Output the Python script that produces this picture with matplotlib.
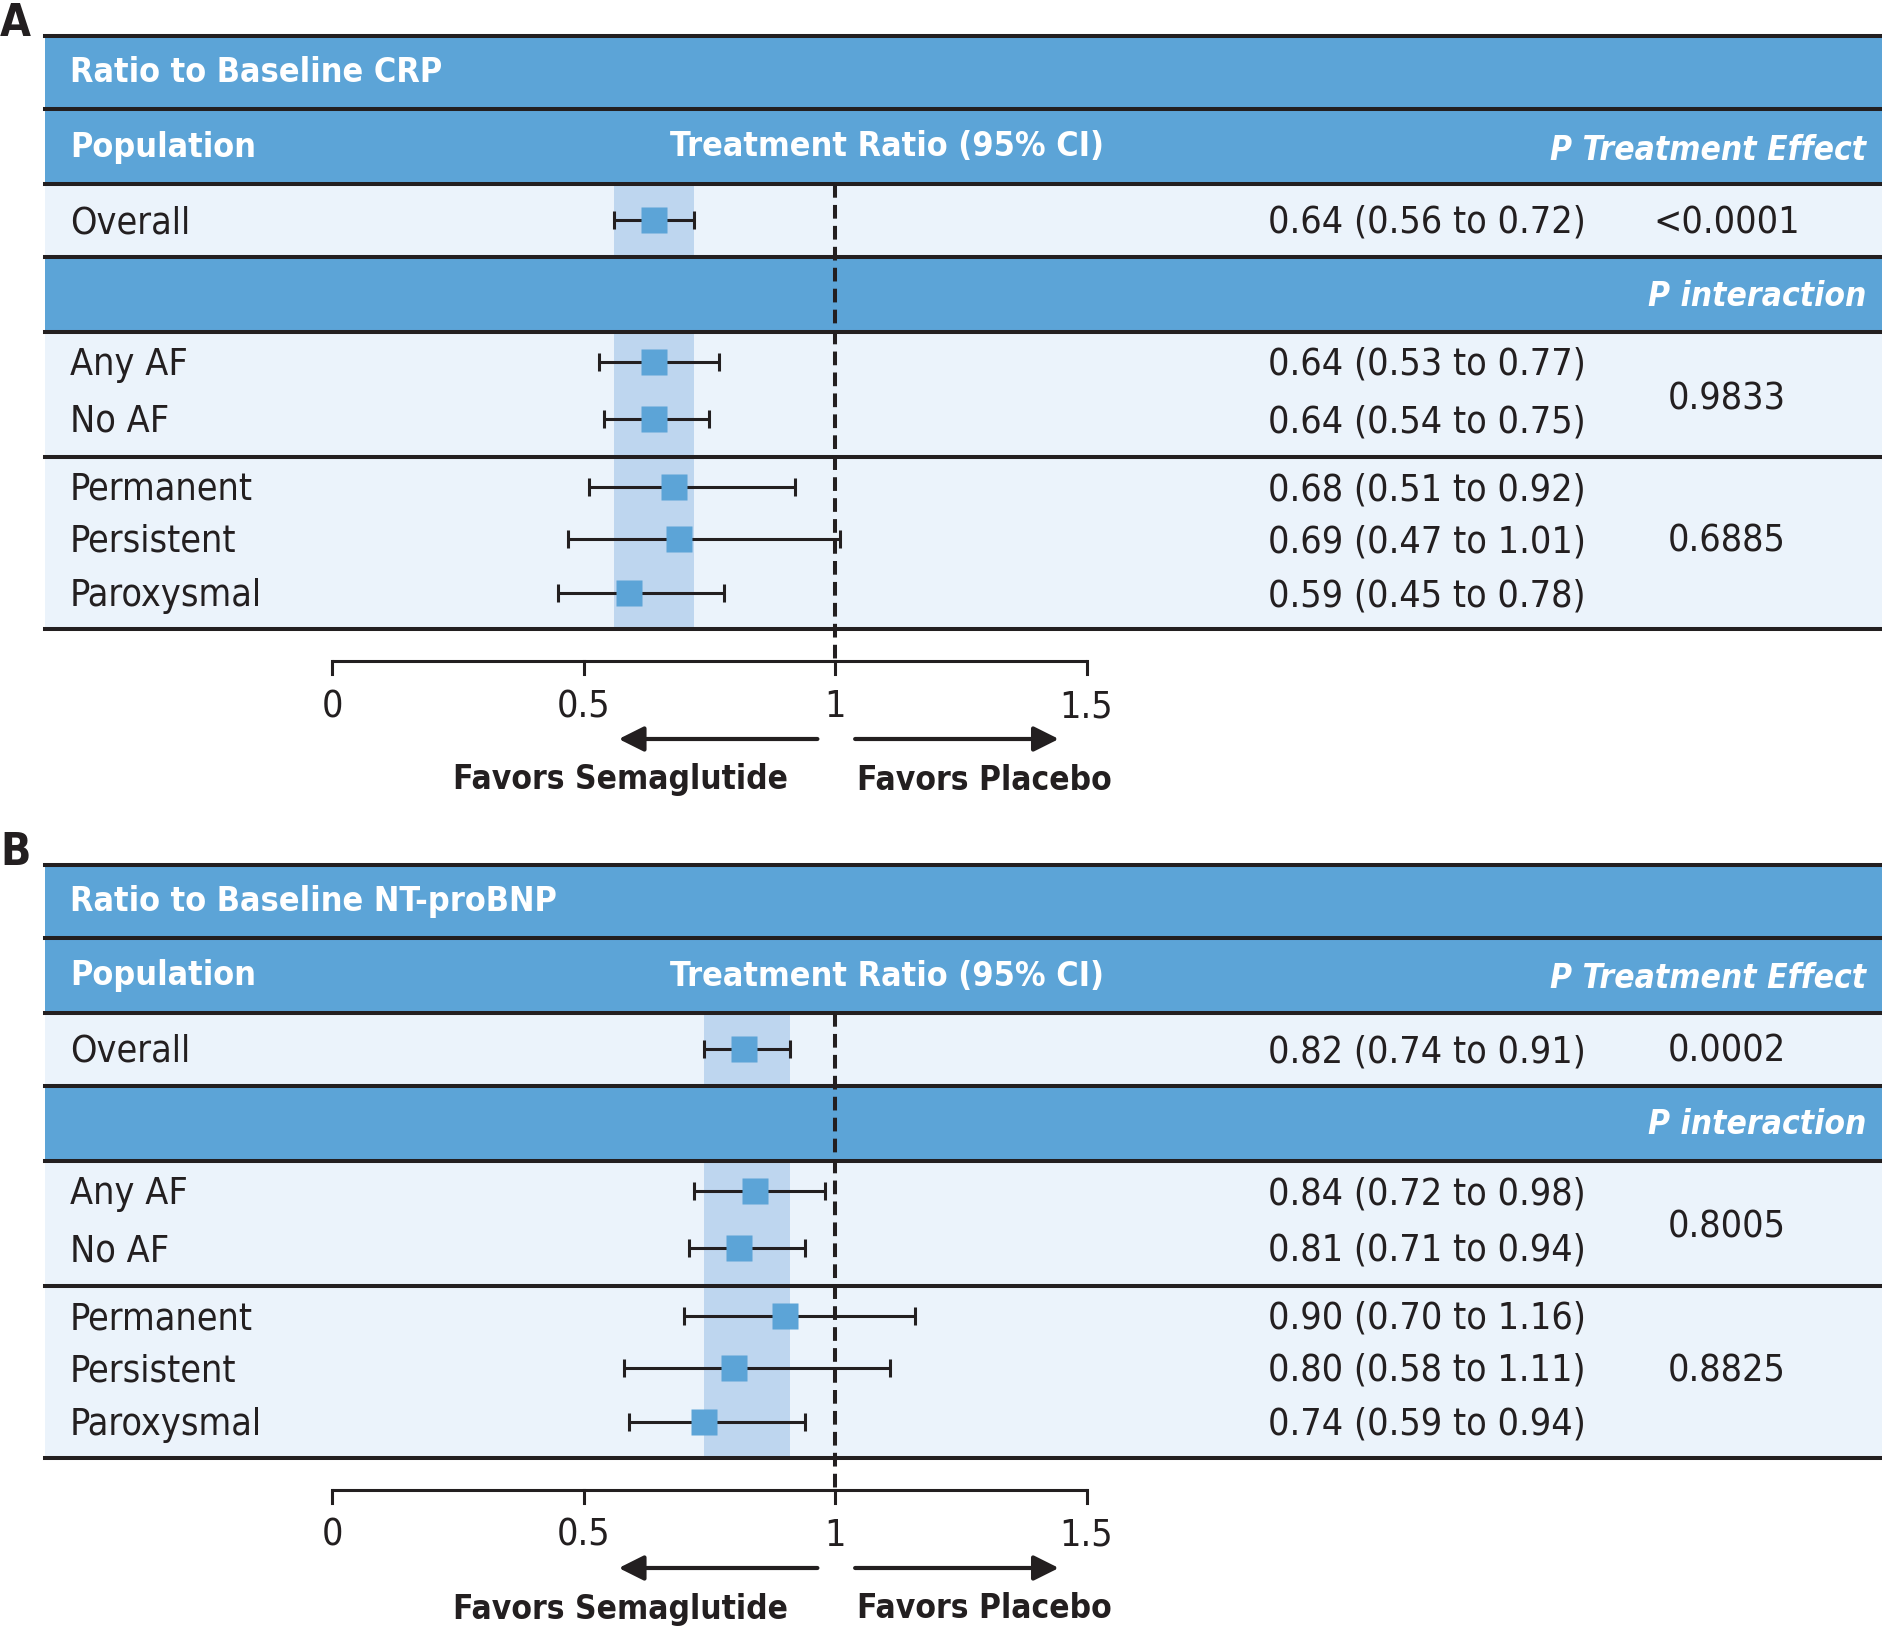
import matplotlib
matplotlib.use("Agg")
import matplotlib.pyplot as plt

plt.rcParams['font.family'] = ['DejaVu Sans']
plt.rcParams['font.stretch'] = 'condensed'

# ---- data -------------------------------------------------------------
row_labels = ["Overall", "Any AF", "No AF", "Permanent", "Persistent", "Paroxysmal"]

crp_title = "Ratio to Baseline CRP"
crp_est = [0.64, 0.64, 0.64, 0.68, 0.69, 0.59]
crp_lo = [0.56, 0.53, 0.54, 0.51, 0.47, 0.45]
crp_hi = [0.72, 0.77, 0.75, 0.92, 1.01, 0.78]
crp_p_effect = "<0.0001"
crp_p_interaction = ["0.9833", "0.6885"]

bnp_title = "Ratio to Baseline NT-proBNP"
bnp_est = [0.82, 0.84, 0.81, 0.90, 0.80, 0.74]
bnp_lo = [0.74, 0.72, 0.71, 0.70, 0.58, 0.59]
bnp_hi = [0.91, 0.98, 0.94, 1.16, 1.11, 0.94]
bnp_p_effect = "0.0002"
bnp_p_interaction = ["0.8005", "0.8825"]

axis_ticks = [0, 0.5, 1, 1.5]
axis_ticklabels = ["0", "0.5", "1", "1.5"]

# ---- style ------------------------------------------------------------
HEAD_BLUE = "#5ca4d7"
ROW_BG = "#ebf3fb"
CI_BAND = "#bed6ef"
MARK = "#5ca4d7"
INK = "#231f20"

W_PX, H_PX = 1882, 1630
X0_PX, UNIT_PX = 332, 503          # where ratio 0 sits, pixels per ratio unit
TABLE_LEFT = 45 / W_PX

# row layout inside one panel (pixels from panel top)
ROW_Y = [184, 326, 383, 451, 503, 557]
TXT_DY = 3      # nudge so the text sits on the same line as the marker
FS = 27         # body text
FS_HEAD = 24.5  # bold header text
FS_ITAL = 24    # bold italic / footer text

fig = plt.figure(figsize=(W_PX / 100, H_PX / 100), dpi=100)
ax = fig.add_axes([0, 0, 1, 1])
ax.set_xlim(-X0_PX / UNIT_PX, (W_PX - X0_PX) / UNIT_PX)
ax.set_ylim(H_PX, 0)
ax.axis("off")
tx = ax.get_yaxis_transform()   # x in axes fraction, y in data


def draw_panel(top, letter, title, est, lo, hi, p_effect, p_inter):
    # backgrounds
    ax.axhspan(top + 148, top + 593, xmin=TABLE_LEFT, xmax=1, color=ROW_BG, lw=0, zorder=0)
    ax.fill_between([lo[0], hi[0]], top + 148, top + 593, color=CI_BAND, lw=0, zorder=1)
    for y0, y1 in [(top, top + 73), (top + 73, top + 148), (top + 221, top + 296)]:
        ax.axhspan(y0, y1, xmin=TABLE_LEFT, xmax=1, color=HEAD_BLUE, lw=0, zorder=2)

    # separator lines
    for y in [top, top + 73, top + 148, top + 221, top + 296, top + 421, top + 593]:
        ax.axhline(y, xmin=TABLE_LEFT, xmax=1, color=INK, lw=2.9, zorder=3)

    # reference line at 1
    ax.plot([1, 1], [top + 148, top + 625], color=INK, lw=2.9, ls=(0, (3.4, 1.8)), zorder=4)

    # header texts
    ax.text(0.0372, top + 37, title, transform=tx, color="white", fontsize=FS_HEAD,
            fontweight="bold", va="center", ha="left", zorder=5)
    ax.text(0.0372, top + 111, "Population", transform=tx, color="white", fontsize=FS_HEAD,
            fontweight="bold", va="center", ha="left", zorder=5)
    ax.text(0.356, top + 111, "Treatment Ratio (95% CI)", transform=tx, color="white",
            fontsize=FS_HEAD, fontweight="bold", va="center", ha="left", zorder=5)
    ax.text(0.9915, top + 114, "P Treatment Effect", transform=tx, color="white",
            fontsize=FS_ITAL, fontweight="bold", style="italic", va="center", ha="right", zorder=5)
    ax.text(0.9915, top + 260, "P interaction", transform=tx, color="white",
            fontsize=FS_ITAL, fontweight="bold", style="italic", va="center", ha="right", zorder=5)

    # rows
    for i, lab in enumerate(row_labels):
        y = top + ROW_Y[i]
        ax.text(0.0372, y + TXT_DY, lab, transform=tx, color=INK, fontsize=FS,
                va="center", ha="left", zorder=5)
        ax.text(0.758, y + TXT_DY, f"{est[i]:.2f} ({lo[i]:.2f} to {hi[i]:.2f})", transform=tx,
                color=INK, fontsize=FS, va="center", ha="center", zorder=5)
        ax.errorbar(est[i], y, xerr=[[est[i] - lo[i]], [hi[i] - est[i]]], fmt="none",
                    ecolor=INK, elinewidth=2.2, capsize=6.5, capthick=2.2, zorder=5)
        ax.plot(est[i], y, marker="s", ms=19, color=MARK, mec="none", zorder=6)

    ax.text(0.9177, top + ROW_Y[0] + TXT_DY, p_effect, transform=tx, color=INK, fontsize=FS,
            va="center", ha="center", zorder=5)
    ax.text(0.9177, top + 363, p_inter[0], transform=tx, color=INK,
            fontsize=FS, va="center", ha="center", zorder=5)
    ax.text(0.9177, top + ROW_Y[4] + TXT_DY, p_inter[1], transform=tx, color=INK,
            fontsize=FS, va="center", ha="center", zorder=5)

    # x axis
    ya = top + 625
    ax.plot([axis_ticks[0], axis_ticks[-1]], [ya, ya], color=INK, lw=2.2, zorder=4,
            solid_capstyle="butt")
    for t, tl in zip(axis_ticks, axis_ticklabels):
        ax.plot([t, t], [ya, ya + 13], color=INK, lw=2.2, zorder=4)
        ax.text(t, top + 671, tl, color=INK, fontsize=FS, va="center", ha="center")

    # direction arrows
    ya = top + 703
    ax.annotate("", xy=(0.57, ya), xytext=(0.965, ya),
                arrowprops=dict(arrowstyle="-|>", color=INK, lw=3, mutation_scale=38,
                                shrinkA=0, shrinkB=0))
    ax.annotate("", xy=(1.445, ya), xytext=(1.04, ya),
                arrowprops=dict(arrowstyle="-|>", color=INK, lw=3, mutation_scale=38,
                                shrinkA=0, shrinkB=0))
    ax.text(0.574, top + 744, "Favors Semaglutide", color=INK, fontsize=FS_ITAL,
            fontweight="bold", va="center", ha="center")
    ax.text(1.296, top + 744, "Favors Placebo", color=INK, fontsize=FS_ITAL,
            fontweight="bold", va="center", ha="center")

    # panel letter
    ax.text(0.0, top - 34, letter, transform=tx, color=INK, fontsize=32,
            fontweight="bold", va="top", ha="left")


draw_panel(36, "A", crp_title, crp_est, crp_lo, crp_hi, crp_p_effect, crp_p_interaction)
draw_panel(865, "B", bnp_title, bnp_est, bnp_lo, bnp_hi, bnp_p_effect, bnp_p_interaction)

fig.savefig("out.png", dpi=100, facecolor="white")
